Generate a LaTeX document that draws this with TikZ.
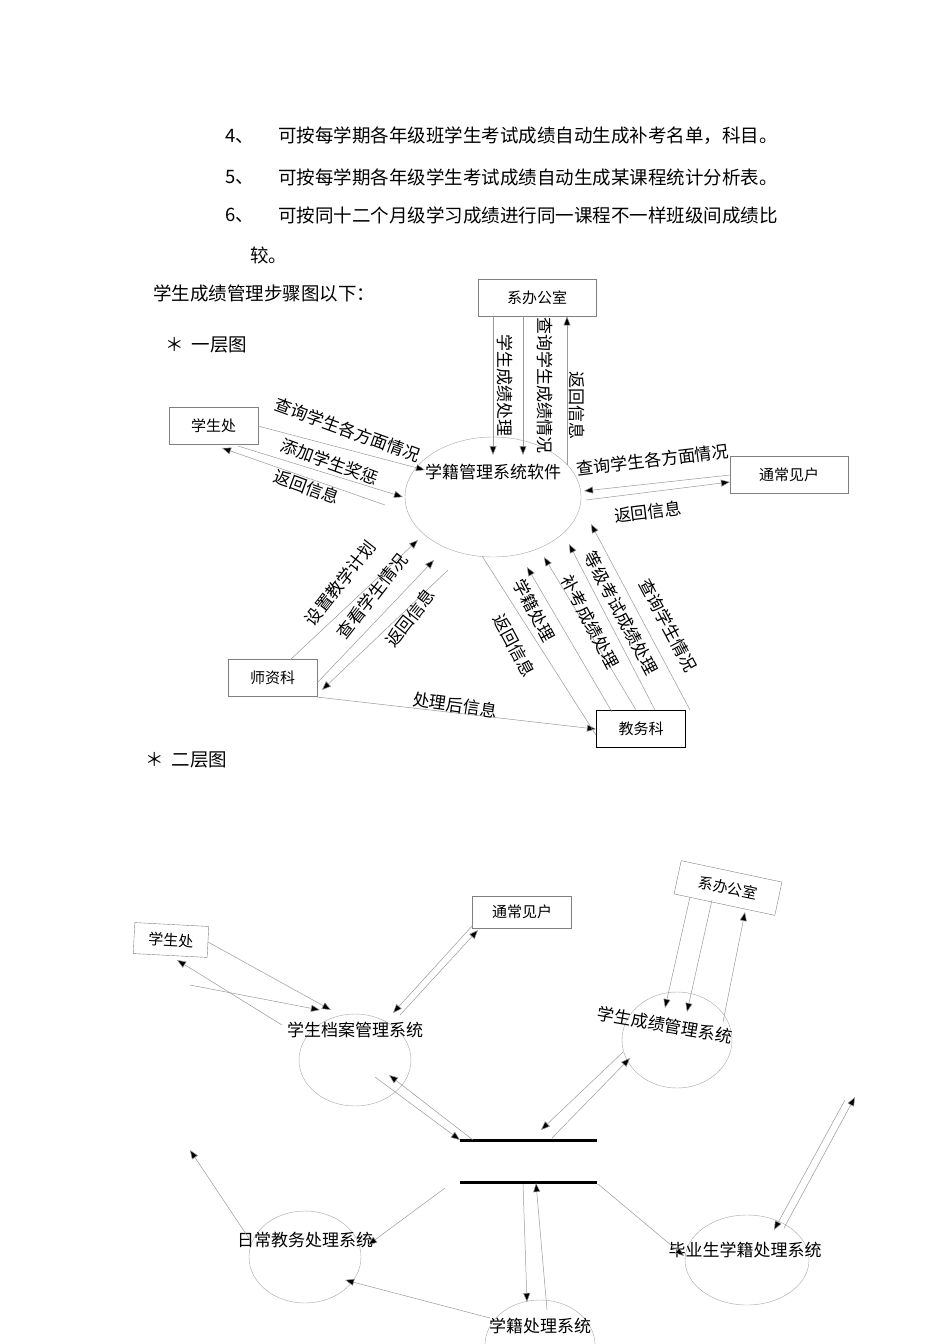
\documentclass[tikz,border=0pt]{standalone}
\usepackage{fontspec}
\setmainfont{Noto Sans CJK SC}
\usetikzlibrary{arrows.meta,shapes.geometric}
\begin{document}
\begin{tikzpicture}[x=1pt,y=-1pt,
 box/.style={draw=gray,minimum width=#1,minimum height=37,inner sep=2pt,font=\fontsize{15}{17}\selectfont},
 box/.default=90,
 proc/.style={draw=gray!70,ellipse},
 fl/.style={draw=gray!80,line width=0.5pt,-{Triangle[length=9pt,width=7pt,fill=black]}},
 ln/.style={draw=gray!80,line width=0.5pt},
 lb/.style={font=\fontsize{17}{19}\selectfont,inner sep=0pt},
 tx/.style={font=\fontsize{18.5}{20}\selectfont,anchor=west,inner sep=0pt},
 st/.style={line width=3pt}]
\useasboundingbox (0,0) rectangle (950,1344);
\node[tx] (t1) at (225,136) {4、};
\node[tx] (t1b) at (278,136) {可按每学期各年级班学生考试成绩自动生成补考名单，科目。};
\node[tx] (t2) at (225,177) {5、};
\node[tx] (t2b) at (278,177) {可按每学期各年级学生考试成绩自动生成某课程统计分析表。};
\node[tx] (t3) at (225,215) {6、};
\node[tx] (t3b) at (278,215) {可按同十二个月级学习成绩进行同一课程不一样班级间成绩比};
\node[tx] (t4) at (250,255) {较。};
\node[tx] (t5) at (153,293) {学生成绩管理步骤图以下：};
\node[tx] (t6) at (165,345) {＊\ \ 一层图};
\node[tx] (t7) at (145,760) {＊\ \ 二层图};
% level 1
\node[proc,minimum width=176,minimum height=120] (sw) at (493,497) {};
\node[lb] (swl) at (493,472) {学籍管理系统软件};
\node[box=118,anchor=north west] (xb) at (478,279) {系办公室\hspace{45pt}};
\node[box=89,anchor=north west] (xs) at (169,407) {学生处\hspace{25pt}};
\node[box=118,anchor=north west] (pt) at (730,456) {通常见户\hspace{40pt}};
\node[box=89,anchor=north west] (sz) at (228,659) {师资科\hspace{25pt}};
\node[draw,line width=1.2pt,minimum width=89,minimum height=37,anchor=north west,font=\fontsize{15}{17}\selectfont] (jw) at (596,710) {教务科\hspace{18pt}};
\coordinate (a1) at (493,455); \coordinate (a2) at (523,455); \coordinate (a3) at (567,465);
\draw[fl] (xb.south west-|a1) -- (a1);
\draw[fl] (xb.south west-|a2) -- (a2);
\draw[fl] (a3) -- (xb.south west-|a3);
\node[lb,rotate=-90] at (505,385) {学生成绩处理};
\node[lb,rotate=-90] at (545,385) {查询学生成绩情况};
\node[lb,rotate=-90] at (577,405) {返回信息};
\coordinate (b1) at (425,470); \coordinate (b2) at (403,497); \coordinate (b3) at (385,505); \coordinate (b4) at (222,448);
\draw[fl] (258,426) -- (b1);
\draw[fl] (238,446) -- (b2);
\draw[fl] (b3) -- (b4);
\node[lb,rotate=-20] at (348,430) {查询学生各方面情况};
\node[lb,rotate=-20] at (330,462) {添加学生奖惩};
\node[lb,rotate=-20] at (307,487) {返回信息};
\coordinate (c1) at (584,491); \coordinate (c2) at (730,482);
\draw[fl] (730,475) -- (c1);
\draw[fl] (586,500) -- (c2);
\node[lb,rotate=7] at (653,460) {查询学生各方面情况};
\node[lb,rotate=7] at (648,512) {返回信息};
\coordinate (d1) at (418,540); \coordinate (d2) at (434,560); \coordinate (d3) at (322,690);
\draw[fl] (290,660) -- (d1);
\draw[fl] (317,683) -- (d2);
\draw[fl] (448,570) -- (d3);
\node[lb,rotate=52] at (340,583) {设置教学计划};
\node[lb,rotate=52] at (372,596) {查看学生情况};
\node[lb,rotate=52] at (410,618) {返回信息};
\draw[fl] (317,697) -- (jw.west);
\node[lb,rotate=-8] at (455,705) {处理后信息};
\draw[ln] (482,556) -- (596,735);
\draw[fl] (612,712) -- (527,567);
\draw[fl] (636,710) -- (544,557);
\draw[fl] (655,710) -- (569,544);
\draw[fl] (690,710) -- (591,524);
\node[lb,rotate=-62] at (514,645) {返回信息};
\node[lb,rotate=-62] at (534,610) {学籍处理};
\node[lb,rotate=-62] at (590,622) {补考成绩处理};
\node[lb,rotate=-62] at (621,613) {等级考试成绩处理};
\node[lb,rotate=-62] at (668,625) {查询学生情况};
% level 2
\node[box=74,rotate=-3,minimum height=31] (xs2) at (171,940) {学生处};
\node[box=99,minimum height=32] (pt2) at (522,912) {通常见户\hspace{18pt}};
\node[box=103,rotate=-12,minimum height=34] (xb2) at (728,888) {系办公室\hspace{12pt}};
\node[proc,minimum width=112,minimum height=92] (e1) at (355,1060) {};
\node[lb] at (355,1030) {学生档案管理系统};
\node[proc,minimum width=110,minimum height=96] (e2) at (677,1040) {};
\node[lb,rotate=-10] at (665,1025) {学生成绩管理系统};
\node[proc,minimum width=112,minimum height=92] (e3) at (305,1257) {};
\node[lb] at (305,1240) {日常教务处理系统};
\node[proc,minimum width=124,minimum height=90] (e4) at (747,1260) {};
\node[lb] at (745,1250) {毕业生学籍处理系统};
\node[proc,minimum width=110,minimum height=90] (e5) at (540,1345) {};
\node[lb] at (540,1326) {学籍处理系统};
\coordinate (s1) at (460,1140); \coordinate (s2) at (597,1140);
\coordinate (s3) at (460,1182); \coordinate (s4) at (597,1182);
\draw[st] (s1) -- (s2); \draw[st] (s3) -- (s4);
\coordinate (f1) at (331,1010); \coordinate (f2) at (320,1010); \coordinate (f3) at (177,960);
\draw[fl] (208,942) -- (f1);
\draw[fl] (190,985) -- (f2);
\draw[fl] (282,1025) -- (f3);
\coordinate (g1) at (393,1013); \coordinate (g2) at (478,930);
\draw[fl] (473,925) -- (g1);
\draw[fl] (400,1015) -- (g2);
\coordinate (h1) at (665,1008); \coordinate (h2) at (687,1012); \coordinate (h3) at (745,912);
\draw[fl] (690,897) -- (h1);
\draw[fl] (712,900) -- (h2);
\draw[fl] (723,1022) -- (h3);
\coordinate (i1) at (389,1075); \coordinate (i2) at (460,1140);
\draw[fl] (473,1140) -- (i1);
\draw[fl] (375,1077) -- (i2);
\coordinate (j1) at (630,1058); \coordinate (j2) at (541,1130);
\draw[fl] (552,1138) -- (j1);
\draw[fl] (623,1052) -- (j2);
\draw[fl] (445,1188) -- (368,1245);
\draw[fl] (523,1184) -- (527,1302);
\draw[fl] (547,1310) -- (536,1183);
\draw[fl] (598,1184) -- (684,1256);
\coordinate (k1) at (855,1097); \coordinate (k2) at (774,1230);
\draw[fl] (784,1228) -- (k1);
\draw[fl] (845,1100) -- (k2);
\draw[fl] (250,1240) -- (190,1150);
\draw[fl] (490,1318) -- (345,1280);
\end{tikzpicture}
\end{document}
